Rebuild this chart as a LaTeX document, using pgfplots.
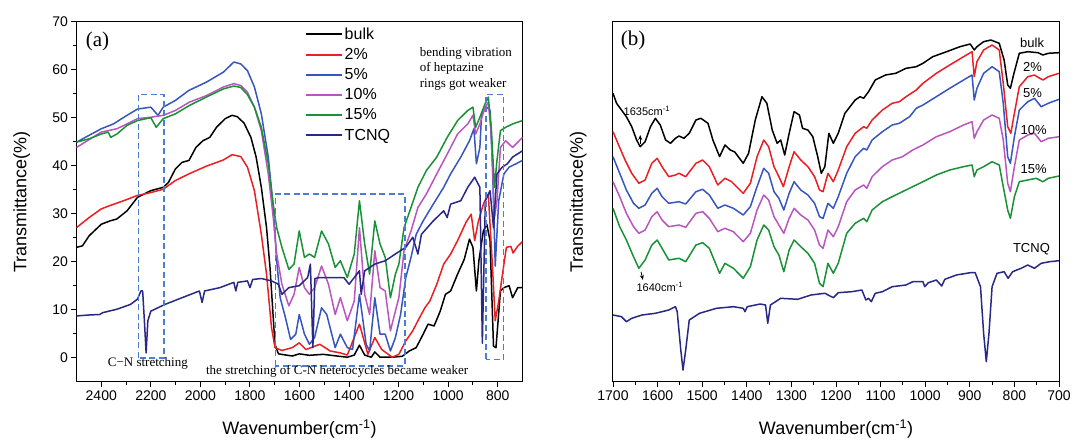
\documentclass[border=0pt]{standalone}
\usepackage{pgfplots}
\pgfplotsset{compat=1.18}
\usepackage{fontspec}
\setmainfont{Liberation Serif}
\setsansfont{Liberation Sans}
\usetikzlibrary{arrows.meta}
\definecolor{cred}{RGB}{235,30,35}
\definecolor{cblue}{RGB}{55,85,190}
\definecolor{cmag}{RGB}{185,85,190}
\definecolor{cgreen}{RGB}{25,145,55}
\definecolor{cnavy}{RGB}{40,40,135}
\definecolor{cbox}{RGB}{75,125,210}
\pgfplotsset{
  myaxis/.style={
    scale only axis, width=446pt, height=360pt,
    x dir=reverse, clip=false,
    axis line style={line width=1pt},
    tick align=outside, xtick pos=bottom, ytick pos=left,
    major tick length=5pt, minor tick length=3pt,
    every tick/.style={black, line width=0.9pt},
    tick label style={font=\sffamily\fontsize{14}{16}\selectfont},
    /pgf/number format/assume math mode=true,
    /pgf/number format/1000 sep={},
    label style={font=\sffamily\fontsize{18}{21}\selectfont},
    xlabel={Wavenumber(cm\textsuperscript{-1})},
    ylabel={Transmittance(\%)},
    xlabel style={at={(axis description cs:0.5,-0.131)}, anchor=center},
    every axis plot/.append style={line width=1.5pt, line join=round},
  }
}
\begin{document}
\begin{tikzpicture}
\path[use as bounding box] (0,0) rectangle (1072pt,440pt);
% ---------------- panel (a)
\begin{axis}[myaxis, at={(76.5pt,58.3pt)}, anchor=south west,
  xmin=700, xmax=2500, ymin=-5, ymax=70,
  xtick={800,1000,...,2400}, minor x tick num=1,
  ytick={0,10,...,70}, minor y tick num=1,
  ylabel style={at={(axis description cs:-0.123,0.5)}, anchor=center},
  legend style={at={(axis description cs:0.505,0.995)}, anchor=north west,
    draw=none, fill=none, font=\sffamily\fontsize{16}{18}\selectfont,
    legend cell align=left, row sep=3.5pt},
  legend image code/.code={\draw[#1, line width=1.8pt] (0pt,0pt) -- (36pt,0pt);},
]
\addplot[black] coordinates {
(2500,23.0)(2476,23.3)(2449,25.4)(2400,27.8)(2365,28.5)(2337,28.9)(2296,30.6)(2254,33.4)
(2200,34.8)(2150,35.5)(2129,36.5)(2101,39.3)(2074,40.7)(2046,41.1)(2018,43.8)(1990,45.2)
(1962,45.9)(1935,48.0)(1900,49.8)(1872,50.5)(1851,50.2)(1824,48.9)(1796,45.9)(1775,41.8)
(1754,35.5)(1733,27.1)(1719,18.8)(1706,8.4)(1699,2.8)(1685,0.8)(1629,0.35)(1601,0.8)
(1560,0.5)(1504,0.7)(1449,0.35)(1407,0.1)(1379,0.55)(1358,2.6)(1337,0.55)(1310,0.1)
(1296,1.2)(1275,0.1)(1226,0.1)(1185,0.3)(1157,1.4)(1129,2.1)(1101,4.9)(1081,7.0)
(1057,6.6)(1032,9.7)(1011,13.2)(990,13.9)(962,17.4)(935,20.5)(914,24.7)(900,23.0)
(886,13.9)(876,20.2)(858,26.4)(844,27.8)(831,24.4)(817,2.4)(807,2.1)(789,13.9)
(775,14.6)(754,15.0)(740,12.5)(719,14.6)(700,14.6)};
\addlegendentry{bulk}
\addplot[cred] coordinates {
(2500,27.1)(2449,29.2)(2400,31.0)(2365,31.7)(2310,32.7)(2254,33.8)(2200,34.4)(2150,35.1)
(2101,36.9)(2046,38.3)(1976,39.9)(1907,41.2)(1872,42.3)(1837,41.9)(1810,39.7)(1782,34.8)
(1754,25.7)(1733,17.4)(1713,6.3)(1699,2.1)(1671,1.5)(1629,2.1)(1601,3.1)(1574,1.7)
(1518,2.8)(1476,1.4)(1435,1.0)(1407,0.55)(1358,7.0)(1324,0.7)(1296,4.2)(1268,1.7)
(1226,0.1)(1199,0.7)(1171,3.5)(1143,5.6)(1122,7.7)(1094,10.4)(1074,11.8)(1046,15.3)
(1018,19.5)(990,21.6)(962,24.4)(928,28.2)(907,29.9)(893,24.4)(879,28.2)(858,32.0)
(838,34.1)(821,18.8)(810,7.7)(796,11.8)(775,19.5)(765,23.0)(747,23.2)(738,21.8)
(720,23.2)(700,24.2)};
\addlegendentry{2\%}
\addplot[cblue] coordinates {
(2500,44.9)(2400,47.7)(2351,48.7)(2296,50.5)(2254,51.8)(2200,52.2)(2171,50.5)(2150,52.2)
(2101,53.6)(2046,55.7)(1976,57.4)(1907,59.5)(1865,61.6)(1837,61.2)(1810,59.8)(1782,56.4)
(1754,50.8)(1726,41.8)(1706,31.3)(1692,20.2)(1678,12.5)(1657,8.4)(1636,3.8)(1615,4.9)
(1601,9.0)(1580,4.9)(1560,2.8)(1539,4.2)(1511,10.4)(1490,9.0)(1456,2.1)(1435,4.9)
(1407,2.1)(1386,1.7)(1358,13.2)(1331,2.8)(1317,1.4)(1296,12.5)(1275,4.9)(1254,4.9)
(1233,1.4)(1213,4.2)(1192,9.0)(1171,16.7)(1150,20.9)(1129,25.7)(1101,28.5)(1060,32.0)
(1018,35.5)(990,38.3)(949,41.8)(914,45.2)(896,47.7)(886,40.4)(872,43.8)(865,50.8)
(844,52.2)(831,51.5)(821,39.7)(810,19.1)(796,32.7)(775,38.3)(754,39.7)(726,40.4)(700,41.1)};
\addlegendentry{5\%}
\addplot[cmag] coordinates {
(2500,43.8)(2400,47.0)(2337,47.7)(2296,48.7)(2254,49.8)(2200,50.1)(2150,50.5)(2101,51.5)
(2046,53.2)(1976,54.6)(1907,56.4)(1865,57.1)(1837,56.7)(1810,55.3)(1782,52.2)(1754,47.3)
(1726,38.3)(1706,29.2)(1692,21.6)(1671,15.3)(1643,10.8)(1622,13.2)(1601,18.8)(1580,14.6)
(1560,13.2)(1539,14.6)(1511,19.1)(1483,15.3)(1456,9.0)(1435,12.5)(1407,7.7)(1379,11.8)
(1358,27.1)(1337,13.2)(1317,9.0)(1296,22.3)(1275,14.6)(1254,13.9)(1233,5.6)(1213,9.7)
(1199,12.5)(1178,22.3)(1150,26.4)(1122,31.3)(1088,34.1)(1046,38.3)(1004,42.4)(962,46.6)
(921,48.7)(900,50.5)(889,46.6)(872,48.7)(851,52.2)(838,53.2)(826,46.6)(813,29.2)
(803,32.7)(789,43.8)(768,45.2)(740,43.8)(700,45.9)};
\addlegendentry{10\%}
\addplot[cgreen] coordinates {
(2500,44.9)(2449,45.6)(2400,46.6)(2372,47.0)(2362,45.9)(2337,46.6)(2296,48.4)(2254,49.4)
(2200,50.0)(2178,48.0)(2150,49.8)(2101,50.8)(2046,52.5)(1976,54.3)(1907,56.0)(1865,56.6)
(1837,56.3)(1810,54.8)(1782,52.2)(1754,48.0)(1726,40.4)(1706,32.0)(1692,27.1)(1671,23.0)
(1643,18.4)(1622,19.5)(1601,26.4)(1580,20.9)(1560,21.6)(1539,20.9)(1511,26.4)(1483,23.7)
(1456,18.8)(1435,20.2)(1407,16.7)(1379,21.6)(1358,32.7)(1337,23.7)(1317,17.4)(1296,28.5)
(1275,23.7)(1254,20.9)(1233,12.5)(1213,17.4)(1199,19.5)(1178,27.1)(1150,31.3)(1122,35.5)
(1088,39.0)(1046,41.8)(1004,45.9)(962,49.4)(921,51.5)(900,52.2)(889,48.0)(872,50.1)
(851,52.9)(838,54.3)(826,48.0)(813,35.5)(803,41.1)(789,47.3)(768,48.0)(740,48.7)(700,49.4)};
\addlegendentry{15\%}
\addplot[cnavy] coordinates {
(2500,8.7)(2449,8.9)(2407,9.0)(2393,9.4)(2337,10.1)(2282,11.1)(2254,12.2)(2240,13.9)
(2233,13.9)(2226,7.7)(2219,1.0)(2212,7.7)(2200,9.7)(2143,11.1)(2074,12.5)(2004,13.9)
(1993,11.5)(1983,13.9)(1921,14.6)(1865,15.7)(1857,13.9)(1849,15.7)(1810,16.0)(1800,14.6)
(1789,16.3)(1754,16.5)(1713,16.0)(1685,15.3)(1671,13.2)(1643,14.6)(1601,15.0)(1567,16.7)
(1556,19.5)(1546,2.1)(1538,16.5)(1518,16.7)(1476,16.7)(1421,16.7)(1400,15.3)(1379,16.7)
(1358,18.1)(1351,13.2)(1337,18.1)(1296,19.5)(1254,20.2)(1213,21.6)(1171,23.0)(1143,25.1)
(1122,21.6)(1108,25.7)(1060,28.5)(1018,30.6)(1004,29.2)(990,32.0)(949,32.7)(921,35.5)
(893,37.6)(872,35.5)(862,3.0)(850,32.7)(831,34.8)(817,27.1)(803,38.3)(782,39.7)
(761,40.4)(740,41.8)(700,43.1)};
\addlegendentry{TCNQ}
% dashed boxes
\draw[cbox, line width=1.6pt, dash pattern=on 6pt off 3.5pt] (axis cs:2250,0) rectangle (axis cs:2147,54.8);
\draw[cbox, line width=1.6pt, dash pattern=on 6pt off 3.5pt] (axis cs:1697,-1.7) rectangle (axis cs:1175,34.1);
\draw[cbox, line width=1.6pt, dash pattern=on 6pt off 3.5pt] (axis cs:848,-0.35) rectangle (axis cs:776,54.8);
\node[font=\rmfamily\fontsize{21}{24}\selectfont] at (axis cs:2415,65.8) {(a)};
\node[font=\rmfamily\fontsize{13}{15.8}\selectfont, anchor=west, align=left, inner sep=0pt]
  at (axis cs:1115,60.2) {bending vibration\\of heptazine\\rings got weaker};
\node[font=\rmfamily\fontsize{13}{15}\selectfont] at (axis cs:2212,-1.2) {C−N stretching};
\node[font=\rmfamily\fontsize{13}{15}\selectfont] at (axis cs:1448,-2.9) {the stretching of C-N heterocycles became weaker};
\end{axis}
% ---------------- panel (b)
\begin{axis}[myaxis, at={(613pt,58.3pt)}, anchor=south west,
  xmin=700, xmax=1700, ymin=-0.7, ymax=359.3,
  xtick={700,800,...,1700}, minor x tick num=1,
  ytick=\empty,
  ylabel style={at={(axis description cs:-0.078,0.5)}, anchor=center},
]
\addplot[black] coordinates {
(1700,287.7)(1692,277.7)(1681,271)(1670,264.3)(1658,254.3)(1647,241)(1639,234.3)(1628,239.3)
(1616,254.3)(1605,262.7)(1594,256)(1582,241)(1571,237.7)(1560,242.7)(1552,245)(1541,242.7)
(1529,247.7)(1514,261)(1503,262.7)(1487,257.7)(1476,241)(1461,224.3)(1449,236)(1437,231)
(1427,229)(1408,217.7)(1396,227.7)(1381,261)(1366,284.3)(1355,277.7)(1343,251)(1332,237.7)
(1324,241)(1315,226)(1305,247.7)(1294,269.3)(1282,266)(1275,252.7)(1263,251)(1252,244.3)
(1241,224.3)(1233,207.7)(1225,214.3)(1216,247.7)(1206,237.7)(1195,247.7)(1180,267.7)(1157,281)
(1146,284.3)(1138,282.7)(1127,289.3)(1112,301)(1089,306)(1066,307.7)(1043,312.7)(1020,314.3)
(1005,317.7)(983,324.3)(952,329.3)(922,334.3)(899,337)(890,331)(884,334.3)(869,339.3)
(853,341)(834,337.7)(823,321)(815,296)(809,292.7)(801,307.7)(789,327.7)(770,329.3)
(747,328.3)(736,326)(724,327.7)(700,328.3)};
\addplot[cred] coordinates {
(1700,249.3)(1689,237.7)(1673,221)(1658,207.7)(1642,197.7)(1628,201)(1613,217.7)(1601,222.7)
(1590,214.3)(1575,204.3)(1560,206)(1552,207.7)(1537,204.3)(1514,217.7)(1499,221)(1484,214.3)
(1465,196)(1449,202.7)(1434,199.3)(1408,187.7)(1392,197.7)(1377,224.3)(1362,241)(1351,234.3)
(1339,214.3)(1328,204.3)(1318,194.3)(1305,214.3)(1294,229.3)(1279,221)(1263,214.3)(1248,204.3)
(1237,191)(1229,189.3)(1218,207.7)(1206,199.3)(1195,211)(1176,234.3)(1157,247.7)(1138,254.3)
(1131,252.7)(1119,261)(1096,271)(1074,277.7)(1058,279.3)(1043,284.3)(1020,291)(1005,297.7)
(975,307.7)(945,316)(914,324.3)(895,329.3)(890,304.3)(884,319.3)(869,331)(850,336)
(834,331)(825,297.7)(815,254.3)(808,247.7)(800,267.7)(789,294.3)(770,304.3)(755,306)
(747,303.7)(736,301)(724,304.3)(700,307.7)};
\addplot[cblue] coordinates {
(1700,224.3)(1685,207.7)(1670,191)(1654,177.7)(1642,172.7)(1628,176)(1613,187.7)(1601,192.7)
(1590,184.3)(1575,177.7)(1552,179.3)(1537,177)(1514,189.3)(1499,191.7)(1484,186)(1465,172.7)
(1449,176)(1430,172.7)(1408,166)(1392,174.3)(1377,194.3)(1362,212.7)(1351,207.7)(1339,189.3)
(1328,182.7)(1317,171)(1305,187.7)(1294,199.3)(1279,191)(1263,186)(1248,177.7)(1237,164.3)
(1229,162.7)(1218,177.7)(1206,172.7)(1195,184.3)(1176,207.7)(1157,224.3)(1138,232.7)(1131,231)
(1119,241)(1096,249.3)(1074,256)(1058,257.7)(1035,264.3)(1020,272.7)(1005,276)(975,284.3)
(945,292.7)(914,301)(895,306)(890,281)(884,292.7)(869,307.7)(850,314.3)(834,309.3)
(825,277.7)(815,224.3)(809,217.7)(800,244.3)(789,271)(770,279.3)(755,282.7)(740,274.3)
(724,277.7)(700,281.7)};
\addplot[cmag] coordinates {
(1700,199.3)(1685,184.3)(1670,167.7)(1654,154.3)(1642,147.7)(1628,151)(1613,164.3)(1601,169.3)
(1590,161)(1575,154.3)(1552,156)(1537,153.7)(1514,167.7)(1499,169.3)(1484,162.7)(1465,149.3)
(1449,152.7)(1430,149.3)(1408,139.3)(1392,147.7)(1377,171)(1362,186)(1351,181)(1339,164.3)
(1328,156)(1317,147.7)(1305,162.7)(1294,172.7)(1279,166)(1263,161)(1248,151)(1237,136)
(1229,132.7)(1218,151)(1206,144.3)(1195,154.3)(1176,179.3)(1157,191)(1138,196)(1131,192.7)
(1119,204.3)(1096,214.3)(1074,221)(1051,224.3)(1028,231)(1005,236)(975,244.3)(945,249.3)
(914,256)(895,259.3)(890,242.7)(884,249.3)(869,261)(850,266)(834,262.7)(825,241)
(815,197.7)(809,189.3)(800,214.3)(789,241)(770,246)(755,247.7)(740,239.3)(724,242.7)(700,244.3)};
\addplot[cgreen] coordinates {
(1700,172.7)(1685,154.3)(1670,141)(1654,124.3)(1642,112.7)(1628,121)(1613,136)(1601,141)
(1590,132.7)(1575,121)(1552,122.7)(1537,119.3)(1514,136)(1499,138.3)(1484,132.7)(1461,107.7)
(1449,117.7)(1430,112.7)(1408,102.7)(1392,114.3)(1377,141)(1362,156)(1351,151)(1339,134.3)
(1328,126)(1317,109.3)(1305,131)(1294,141)(1279,134.3)(1263,127.7)(1248,117.7)(1237,97.7)
(1229,94.3)(1218,117.7)(1206,107.7)(1195,117.7)(1176,147.7)(1157,157.7)(1138,162.7)(1131,159.3)
(1119,171)(1096,179.3)(1074,184.3)(1051,189.3)(1028,194.3)(1005,199.3)(975,206)(945,211)
(914,214.3)(895,216)(890,204.3)(884,211)(869,214.3)(850,219.3)(834,216)(825,194.3)
(815,171)(809,162.7)(800,184.3)(789,199.3)(770,201)(751,202.7)(736,199.3)(724,202.7)(700,205)};
\addplot[cnavy] coordinates {
(1700,66)(1681,64.3)(1670,59.3)(1658,62.7)(1635,66)(1605,67.7)(1575,71)(1560,74.3)
(1556,69.3)(1548,31)(1543,11)(1537,31)(1529,61)(1506,67.7)(1468,72.7)(1430,74.3)
(1408,72.7)(1404,69.3)(1399,74.3)(1370,77)(1358,76)(1353,57.7)(1347,76)(1324,82.7)
(1286,81.7)(1256,86)(1225,87.7)(1206,83.3)(1195,88.3)(1165,89.3)(1142,91)(1133,81)
(1127,82.7)(1121,79.3)(1112,87.7)(1096,89.3)(1074,94.3)(1043,96)(1028,99.3)(1005,99.3)
(1001,94.3)(993,98.3)(975,101)(963,95)(956,101.7)(930,106)(899,108.3)(888,108.3)
(876,94.3)(869,47.7)(863,19.3)(857,47.7)(850,94.3)(839,107.7)(823,109.3)(814,102.7)
(804,109.3)(785,112.7)(770,116)(755,112.7)(740,117.7)(721,119.3)(700,120.3)};
\node[font=\rmfamily\fontsize{21}{24}\selectfont] at (axis cs:1655,341) {(b)};
\begin{scope}[font=\sffamily\fontsize{13}{15}\selectfont, anchor=east, inner sep=0pt]
\node[anchor=east] at (axis cs:733,338) {bulk};
\node[anchor=east] at (axis cs:738,314) {2\%};
\node[anchor=east] at (axis cs:738,288) {5\%};
\node[anchor=east] at (axis cs:727,251) {10\%};
\node[anchor=east] at (axis cs:727,212) {15\%};
\node[anchor=east] at (axis cs:720,132) {TCNQ};
\end{scope}
\node[font=\sffamily\fontsize{11}{13}\selectfont] at (axis cs:1624,270) {1635cm\textsuperscript{-1}};
\node[font=\sffamily\fontsize{11}{13}\selectfont] at (axis cs:1595,93.7) {1640cm\textsuperscript{-1}};
\draw[-{Stealth[length=5pt,width=4pt]}, line width=0.8pt] (axis cs:1639,237) -- (axis cs:1639,246);
\draw[-{Stealth[length=5pt,width=4pt]}, line width=0.8pt] (axis cs:1637,109) -- (axis cs:1633,101);
\end{axis}
\end{tikzpicture}
\end{document}
